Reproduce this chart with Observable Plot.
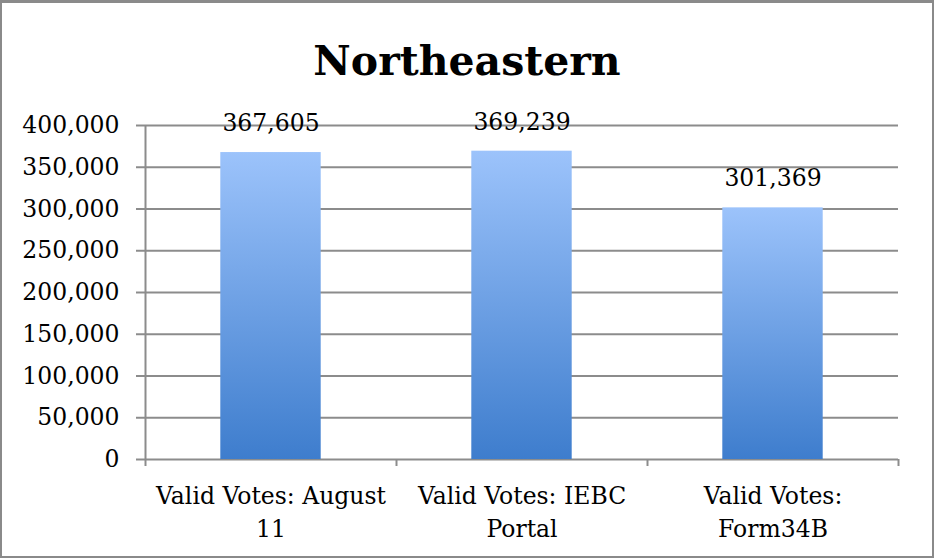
<!DOCTYPE html>
<html>
<head>
<meta charset="utf-8">
<script src="https://cdn.jsdelivr.net/npm/d3@7"></script>
<script src="https://cdn.jsdelivr.net/npm/@observablehq/plot@0.6"></script>
<style>
  html, body { margin: 0; padding: 0; background: #fff; }
  #wrap { position: relative; width: 934px; height: 558px; box-sizing: border-box; border: 2px solid #8a8a8a; border-top-width: 3px; background: #fff; overflow: hidden; }
  #title { position: absolute; left: 0; top: 0; width: 930px; height: 97px; text-align: center; font-family: "DejaVu Serif", serif; font-weight: bold; font-size: 41px; line-height: 116px; color: #000; }
  #chart { position: absolute; left: 0; top: 97px; }
</style>
</head>
<body>
<div id="wrap">
  <div id="title">Northeastern</div>
  <div id="chart"></div>
</div>
<script>
const categories = ["Valid Votes: August 11", "Valid Votes: IEBC Portal", "Valid Votes: Form34B"];
const categoryLabels = ["Valid Votes: August\n11", "Valid Votes: IEBC\nPortal", "Valid Votes:\nForm34B"];
const values = [367605, 369239, 301369];
const yTicks = [0, 50000, 100000, 150000, 200000, 250000, 300000, 350000, 400000];

const data = categories.map((c, i) => ({category: c, label: categoryLabels[i], value: values[i], i}));
const fmt = d3.format(",");

const chart = Plot.plot({
  width: 930,
  height: 456,
  marginTop: 25,
  marginBottom: 97,
  marginLeft: 143,
  marginRight: 34,
  style: {fontFamily: "DejaVu Serif, serif", fontSize: "23.5px", color: "#000", background: "transparent"},
  x: {type: "linear", domain: [0, categories.length], axis: null},
  y: {domain: [0, 400000], axis: null},
  marks: [
    Plot.ruleY(yTicks, {y: d => d, stroke: "#8c8c8c", strokeWidth: 2, strokeOpacity: 1}),
    Plot.axisY({ticks: yTicks, tickFormat: fmt, tickSize: 9, tickPadding: 17, stroke: "#8c8c8c", strokeWidth: 2, strokeOpacity: 1, fontSize: 23.5, fill: "#000", label: null}),
    Plot.axisX({ticks: d3.range(categories.length + 1), tickFormat: () => "", tickSize: 7, stroke: "#8c8c8c", strokeWidth: 2, strokeOpacity: 1, label: null}),
    Plot.ruleX([0], {stroke: "#8c8c8c", strokeWidth: 2}),
    Plot.rectY(data, {x1: d => d.i + 0.3, x2: d => d.i + 0.7, y1: 0, y2: "value", fill: "url(#barGrad)"}),
    Plot.text(data, {x: d => d.i + 0.5, y: "value", text: d => fmt(d.value), dy: -29, fontSize: 23.5, fill: "#000"}),
    Plot.text(data, {x: d => d.i + 0.5, y: 0, text: "label", lineAnchor: "top", dy: 21, lineHeight: 1.4, fontSize: 23.5, fill: "#000"})
  ]
});

const svg = d3.select(chart);
const defs = svg.insert("defs", ":first-child");
const grad = defs.append("linearGradient").attr("id", "barGrad").attr("x1", 0).attr("y1", 0).attr("x2", 0).attr("y2", 1);
grad.append("stop").attr("offset", "0%").attr("stop-color", "#9cc3fb");
grad.append("stop").attr("offset", "100%").attr("stop-color", "#3e7dcd");

document.getElementById("chart").appendChild(chart);
</script>
</body>
</html>
